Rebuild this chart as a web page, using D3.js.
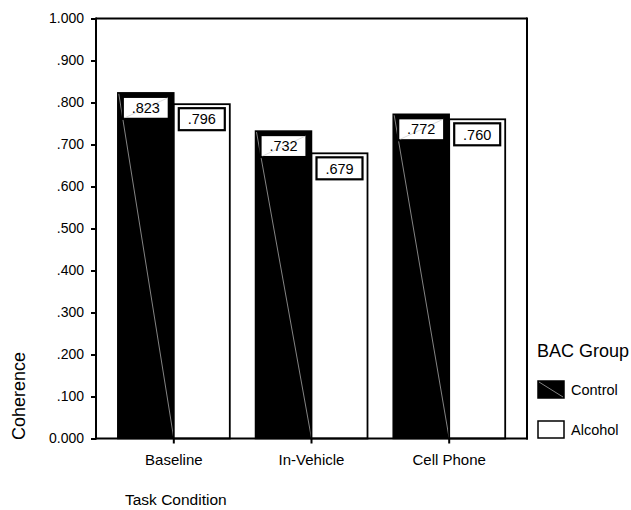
<!DOCTYPE html>
<html><head><meta charset="utf-8">
<script src="https://cdn.jsdelivr.net/npm/d3@7"></script>
<style>
body{margin:0;background:#fff;}
svg{display:block;font-family:"Liberation Sans",Arial,Helvetica,sans-serif;}
</style></head>
<body>
<script>
const categories = ["Baseline", "In-Vehicle", "Cell Phone"];
const groups = ["Control", "Alcohol"];
const controlValues = [0.823, 0.732, 0.772];
const alcoholValues = [0.796, 0.679, 0.760];
const yTickValues = [0, 0.1, 0.2, 0.3, 0.4, 0.5, 0.6, 0.7, 0.8, 0.9, 1.0];
const xTitle = "Task Condition";
const yTitle = "Coherence";
const legendTitle = "BAC Group";

const W = 631, H = 510;
const plot = {left: 96, right: 527, top: 18.5, bottom: 438.5};
const barW = 56;

const svg = d3.select("body").append("svg").attr("width", W).attr("height", H);

const x = d3.scaleBand().domain(categories).range([plot.left, plot.right]).paddingInner(0.13).paddingOuter(0.13);
const x1 = d3.scaleBand().domain(groups).range([x.bandwidth()/2 - barW, x.bandwidth()/2 + barW]);
const y = d3.scaleLinear().domain([0, 1]).range([plot.bottom, plot.top]);

const fmt = d3.format(".3f");
const lab = d => d === 0 ? "0.000" : fmt(d).replace(/^0\./, ".");

const data = [];
categories.forEach((c, i) => {
  data.push({cat: c, grp: "Control", v: controlValues[i]});
  data.push({cat: c, grp: "Alcohol", v: alcoholValues[i]});
});

// bars
const bars = svg.append("g");
data.forEach(d => {
  const bx = x(d.cat) + x1(d.grp), by = y(d.v), bh = y(0) - y(d.v), bw = x1.bandwidth();
  if (d.grp === "Control") {
    bars.append("rect").attr("x", bx).attr("y", by).attr("width", bw).attr("height", bh)
      .attr("fill", "#000").attr("stroke", "#000").attr("stroke-width", 1.5);
    bars.append("line").attr("x1", bx + 1).attr("y1", by + 1).attr("x2", bx + bw).attr("y2", y(0))
      .attr("stroke", "#bbb").attr("stroke-width", 0.7);
  } else {
    bars.append("rect").attr("x", bx).attr("y", by).attr("width", bw).attr("height", bh)
      .attr("fill", "#fff").attr("stroke", "#000").attr("stroke-width", 1.8);
  }
});

// value labels
const lblW = 46, lblH = 22;
data.forEach(d => {
  const cx = x(d.cat) + x1(d.grp) + x1.bandwidth()/2;
  const top = y(d.v) + 4;
  svg.append("rect").attr("x", cx - lblW/2).attr("y", top).attr("width", lblW).attr("height", lblH)
    .attr("fill", "#fff").attr("stroke", "#000").attr("stroke-width", 2.2);
  if (d.grp === "Control") {
    svg.append("line").attr("x1", cx - lblW/2 + 2).attr("y1", top + lblH - 1).attr("x2", cx + lblW/2 - 1).attr("y2", top + 1)
      .attr("stroke", "#ccc").attr("stroke-width", 0.7);
  }
  svg.append("text").attr("x", cx).attr("y", top + lblH/2).attr("dy", "0.36em")
    .attr("text-anchor", "middle").attr("font-size", 14.5).text(lab(d.v));
});

// frame
const frame = svg.append("g").attr("stroke", "#000").attr("stroke-width", 2).attr("fill", "none");
frame.append("line").attr("x1", plot.left).attr("x2", plot.right).attr("y1", plot.top).attr("y2", plot.top);
frame.append("line").attr("x1", plot.right).attr("x2", plot.right).attr("y1", plot.top - 1).attr("y2", plot.bottom + 1);
frame.append("line").attr("x1", plot.left).attr("x2", plot.right + 1).attr("y1", plot.bottom).attr("y2", plot.bottom);

// y axis
const yAxis = svg.append("g").attr("transform", `translate(${plot.left},0)`)
  .call(d3.axisLeft(y).tickValues(yTickValues).tickFormat(lab).tickSize(5).tickPadding(7));
yAxis.select(".domain").attr("stroke-width", 2).attr("d", `M0,${plot.top - 1}V${plot.bottom + 1}`);
yAxis.selectAll(".tick line").attr("stroke-width", 2);
yAxis.selectAll("text").attr("font-size", 14).attr("font-family", "Liberation Sans, Arial, sans-serif").attr("fill", "#000");

// x axis
const xAxis = svg.append("g").attr("transform", `translate(0,${plot.bottom})`)
  .call(d3.axisBottom(x).tickSize(5).tickPadding(11));
xAxis.select(".domain").remove();
xAxis.selectAll(".tick line").attr("stroke-width", 2);
xAxis.selectAll("text").attr("font-size", 15).attr("font-family", "Liberation Sans, Arial, sans-serif").attr("fill", "#000");

// titles
svg.append("text").attr("x", 125).attr("y", 505).attr("font-size", 15.5).text(xTitle);
svg.append("text").attr("transform", "translate(25,440) rotate(-90)").attr("font-size", 18).text(yTitle);

// legend
const lg = svg.append("g");
lg.append("text").attr("x", 537).attr("y", 357).attr("font-size", 18).text(legendTitle);
groups.forEach((g, i) => {
  const ly = 381 + i * 40;
  lg.append("rect").attr("x", 538).attr("y", ly).attr("width", 26).attr("height", 17)
    .attr("fill", g === "Control" ? "#000" : "#fff").attr("stroke", "#000").attr("stroke-width", 1.5);
  if (g === "Control") {
    lg.append("line").attr("x1", 539).attr("y1", ly + 1).attr("x2", 563).attr("y2", ly + 16)
      .attr("stroke", "#bbb").attr("stroke-width", 0.7);
  }
  lg.append("text").attr("x", 571).attr("y", ly + 8.5).attr("dy", "0.36em").attr("font-size", 14.5).text(g);
});
</script>
</body></html>
